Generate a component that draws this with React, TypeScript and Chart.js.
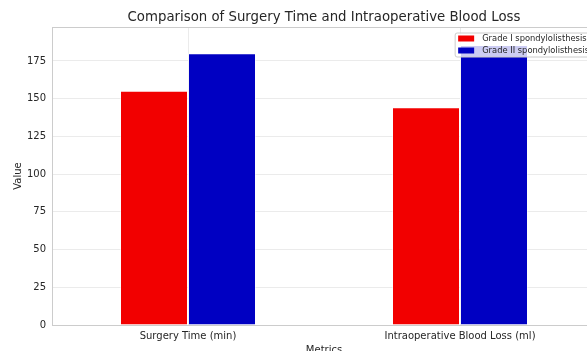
import React, { useEffect, useRef } from "react";
import { Chart, registerables } from "chart.js";

Chart.register(...registerables);

const chartTitle = "Comparison of Surgery Time and Intraoperative Blood Loss";
const categories = ["Surgery Time (min)", "Intraoperative Blood Loss (ml)"];
const seriesLabels = ["Grade I spondylolisthesis", "Grade II spondylolisthesis"];
const gradeIValues = [155.3, 144.3];
const gradeIIValues = [180.1, 185.5];
const yTickValues = [0, 25, 50, 75, 100, 125, 150, 175];
const yMax = 197.5;

const FONT = "'DejaVu Sans', sans-serif";
const TEXT = "#262626";
const RED = "rgb(242,0,0)";
const BLUE = "rgb(0,0,194)";

const W = 612;
const H = 372;

const titlePlugin = {
  id: "axesTitle",
  afterDraw(chart: any) {
    const { ctx, chartArea } = chart;
    ctx.save();
    ctx.font = `13.3px ${FONT}`;
    ctx.fillStyle = TEXT;
    ctx.textAlign = "center";
    ctx.textBaseline = "middle";
    ctx.fillText(chartTitle, (chartArea.left + chartArea.right) / 2, chartArea.top - 9);
    ctx.restore();
  },
};

const framePlugin = {
  id: "frame",
  afterDatasetsDraw(chart: any) {
    const { ctx, chartArea } = chart;
    ctx.save();
    ctx.strokeStyle = "#cccccc";
    ctx.lineWidth = 1;
    ctx.strokeRect(
      Math.round(chartArea.left) + 0.5,
      Math.round(chartArea.top) + 0.5,
      Math.round(chartArea.right - chartArea.left),
      Math.round(chartArea.bottom - chartArea.top)
    );
    ctx.restore();
  },
};

const legendPlugin = {
  id: "boxLegend",
  afterDraw(chart: any) {
    const { ctx, chartArea } = chart;
    const fs = 8.33;
    ctx.save();
    ctx.font = `${fs}px ${FONT}`;
    const items = chart.data.datasets.map((d: any) => ({ label: d.label, color: d.backgroundColor }));
    const textW = Math.max(...items.map((i: any) => ctx.measureText(i.label).width));
    const pad = 3;
    const patchW = 16;
    const gap = 8;
    const rowH = 12;
    const boxW = pad + patchW + gap + textW + pad;
    const boxH = 24;
    const right = chartArea.right - 4;
    const left = right - boxW;
    const top = chartArea.top + 6;
    ctx.beginPath();
    const r = 2;
    ctx.moveTo(left + r, top);
    ctx.lineTo(right - r, top);
    ctx.quadraticCurveTo(right, top, right, top + r);
    ctx.lineTo(right, top + boxH - r);
    ctx.quadraticCurveTo(right, top + boxH, right - r, top + boxH);
    ctx.lineTo(left + r, top + boxH);
    ctx.quadraticCurveTo(left, top + boxH, left, top + boxH - r);
    ctx.lineTo(left, top + r);
    ctx.quadraticCurveTo(left, top, left + r, top);
    ctx.closePath();
    ctx.fillStyle = "rgba(255,255,255,0.8)";
    ctx.fill();
    ctx.strokeStyle = "#cccccc";
    ctx.lineWidth = 1;
    ctx.stroke();
    items.forEach((it: any, i: number) => {
      const cy = top + 5.5 + i * rowH;
      ctx.fillStyle = it.color;
      ctx.fillRect(left + pad, cy - 3, patchW, 6);
      ctx.fillStyle = TEXT;
      ctx.textBaseline = "middle";
      ctx.textAlign = "left";
      ctx.fillText(it.label, left + pad + patchW + gap, cy);
    });
    ctx.restore();
  },
};

export default function App() {
  const ref = useRef<HTMLCanvasElement | null>(null);
  useEffect(() => {
    if (!ref.current) return;
    const chart = new Chart(ref.current, {
      type: "bar",
      data: {
        labels: categories,
        datasets: [
          {
            label: seriesLabels[0],
            data: gradeIValues,
            backgroundColor: RED,
            borderColor: "rgba(255,255,255,0.5)",
            borderWidth: 1,
            categoryPercentage: 0.5,
            barPercentage: 1.0,
          },
          {
            label: seriesLabels[1],
            data: gradeIIValues,
            backgroundColor: BLUE,
            borderColor: "rgba(255,255,255,0.5)",
            borderWidth: 1,
            categoryPercentage: 0.5,
            barPercentage: 1.0,
          },
        ],
      },
      options: {
        responsive: false,
        animation: false,
        devicePixelRatio: 1,
        layout: { padding: { left: 0, right: W - 596, top: 27, bottom: 0 } },
        plugins: {
          legend: { display: false },
          tooltip: { enabled: false },
          title: { display: false },
        },
        scales: {
          x: {
            offset: true,
            grid: { offset: false, color: "#ebebeb", drawTicks: false },
            border: { display: false },
            ticks: { font: { family: FONT, size: 10 }, color: TEXT, padding: 5, maxRotation: 0 },
            title: {
              display: true,
              text: "Metrics",
              font: { family: FONT, size: 10 },
              color: TEXT,
              padding: { top: 0, bottom: 16 },
            },
            afterFit: (s: any) => {
              s.height = H - 325;
            },
          },
          y: {
            min: 0,
            max: yMax,
            grid: { color: "#ebebeb", drawTicks: false },
            border: { display: false },
            ticks: { font: { family: FONT, size: 10 }, color: TEXT, padding: 6 },
            afterBuildTicks: (s: any) => {
              s.ticks = yTickValues.map((v) => ({ value: v }));
            },
            title: {
              display: true,
              text: "Value",
              font: { family: FONT, size: 10 },
              color: TEXT,
              padding: { top: 12, bottom: 0 },
            },
            afterFit: (s: any) => {
              s.width = 52;
            },
          },
        },
      },
      plugins: [framePlugin, legendPlugin, titlePlugin],
    });
    return () => chart.destroy();
  }, []);
  return (
    <div
      style={{
        position: "fixed",
        left: 0,
        top: 0,
        width: 587,
        height: 351,
        overflow: "hidden",
        background: "#fff",
      }}
    >
      <canvas ref={ref} width={W} height={H} style={{ display: "block", width: W, height: H }} />
    </div>
  );
}
